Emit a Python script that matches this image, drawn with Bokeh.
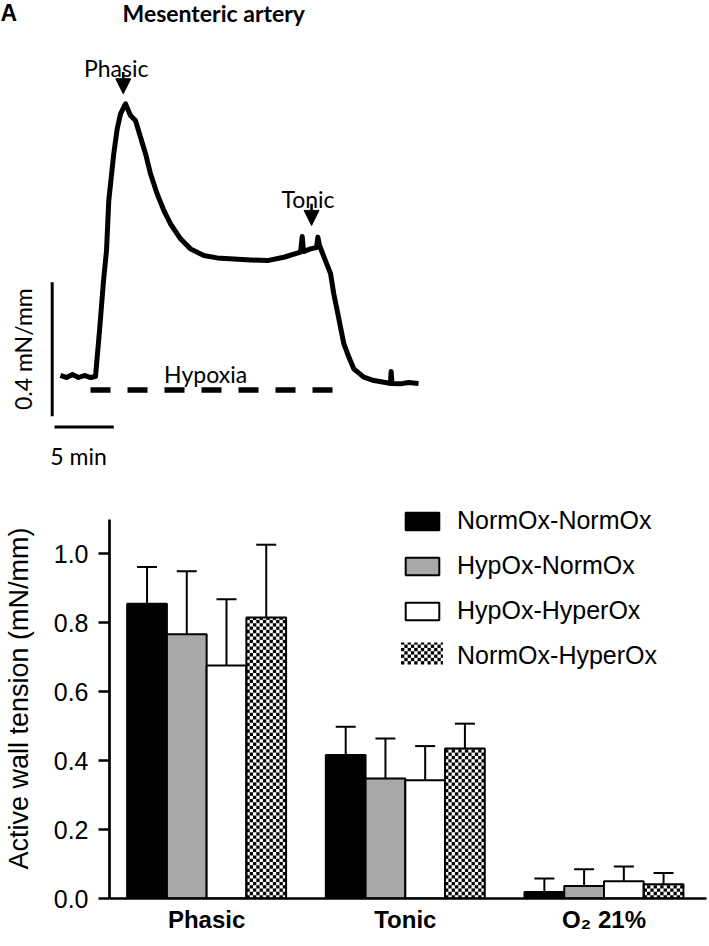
import math
from bokeh.plotting import figure
from bokeh.models import (ColumnDataSource, Whisker, TeeHead, Legend, LegendItem,
                          Label, Arrow, NormalHead, PrintfTickFormatter,
                          FixedTicker, Range1d)
from bokeh.transform import dodge
from bokeh.layouts import column
from bokeh.core.properties import value
from bokeh.embed import file_html
from bokeh.resources import INLINE

# ---------------- Panel A data (time in min, tension in mN/mm) ----------------
trace_time = [0.00, 0.51, 1.01, 1.52, 2.02, 2.53, 2.95, 3.29, 3.63, 3.88, 4.07, 4.49, 4.78,
              5.06, 5.48, 5.90, 6.32, 6.75, 7.17, 7.59, 8.15, 8.71, 9.27, 10.12, 10.96,
              12.08, 13.21, 14.61, 16.02, 17.43, 18.83, 20.24, 20.38, 20.49, 21.08, 21.59,
              21.70, 21.84, 22.34, 22.77, 23.04, 23.33, 23.61, 23.89, 24.31, 24.73, 25.57,
              26.42, 27.40, 27.82, 27.88, 27.95, 28.67, 29.34, 30.19]
trace_tension = [0.003, -0.003, 0.006, -0.003, 0.003, -0.003, 0.000, 0.137, 0.287, 0.376,
                 0.525, 0.665, 0.739, 0.784, 0.814, 0.779, 0.764, 0.714, 0.665, 0.605, 0.545,
                 0.496, 0.456, 0.411, 0.381, 0.361, 0.354, 0.351, 0.348, 0.346, 0.356, 0.371,
                 0.418, 0.373, 0.381, 0.385, 0.416, 0.391, 0.346, 0.307, 0.247, 0.197, 0.147,
                 0.098, 0.058, 0.023, -0.002, -0.012, -0.018, -0.021, 0.015, -0.021, -0.022,
                 -0.018, -0.021]
hypoxia_start = 2.53
hypoxia_end = 23.04
phasic_time = 5.29
tonic_time = 21.17
scale_time = 5.0       # min
scale_tension = 0.4    # mN/mm

# ---------------- Panel B data ----------------
categories = ["Phasic", "Tonic", "O\u2082 21%"]
series_names = ["NormOx-NormOx", "HypOx-NormOx", "HypOx-HyperOx", "NormOx-HyperOx"]
normox_normox = [0.855, 0.416, 0.019]
hypox_normox = [0.766, 0.348, 0.036]
hypox_hyperox = [0.676, 0.343, 0.050]
normox_hyperox = [0.815, 0.435, 0.041]
normox_normox_err = [0.106, 0.082, 0.039]
hypox_normox_err = [0.183, 0.116, 0.049]
hypox_hyperox_err = [0.192, 0.099, 0.043]
normox_hyperox_err = [0.211, 0.072, 0.033]
y_ticks = [0.0, 0.2, 0.4, 0.6, 0.8, 1.0]

# ---------------- Panel A ----------------
W = 709
H1 = 482
PX_PER_MIN = 11.86
PX_PER_UNIT = 335.0
t0 = -60 / PX_PER_MIN
t1 = t0 + W / PX_PER_MIN
f1 = 376 / PX_PER_UNIT
f0 = f1 - H1 / PX_PER_UNIT

pa = figure(width=W, height=H1, x_range=Range1d(t0, t1), y_range=Range1d(f0, f1),
            x_axis_location=None, y_axis_location=None, toolbar_location=None,
            output_backend="svg", min_border=0, outline_line_color=None,
            frame_align=False)
pa.xgrid.visible = False
pa.ygrid.visible = False

pa.line(trace_time, trace_tension, line_color="black", line_width=5, line_join="round")

# hypoxia bar
dash_level = -0.040
pa.line([hypoxia_start, hypoxia_end], [dash_level, dash_level], line_color="black",
        line_width=5.5, line_dash="20 17", line_cap="butt")

LATO = value("Lato")
pa.text(x=[(hypoxia_start + hypoxia_end) / 2 - 0.55], y=[0.0075], text=["Hypoxia"],
        text_font=LATO, text_font_size="23px", text_align="center",
        text_baseline="alphabetic", text_color="black")
pa.text(x=[phasic_time - 0.59, tonic_time - 0.30], y=[0.921, 0.531], text=["Phasic", "Tonic"],
        text_font=LATO, text_font_size="23px", text_align="center",
        text_baseline="alphabetic", text_color="black")

for tt, ys, ye in [(phasic_time, 0.909, 0.844), (tonic_time, 0.516, 0.451)]:
    pa.add_layout(Arrow(end=NormalHead(size=15, fill_color="black", line_color="black"),
                        x_start=tt, y_start=ys, x_end=tt, y_end=ye,
                        line_width=2.5, line_color="black"))

# scale bars
sb_t = -0.70
sb_f = -0.1185
hb_t = -0.506
hb_f = -0.151
pa.line([sb_t, sb_t], [sb_f, sb_f + scale_tension], line_color="black", line_width=3)
pa.line([hb_t, hb_t + scale_time], [hb_f, hb_f], line_color="black", line_width=3)
pa.text(x=[-3.16], y=[sb_f + scale_tension / 2], text=["0.4 mN/mm"], angle=math.pi / 2,
        text_font=LATO, text_font_size="23px", text_align="center",
        text_baseline="middle", text_color="black")
pa.text(x=[1.52], y=[-0.236], text=["5 min"], text_font=LATO, text_font_size="23px",
        text_align="center", text_baseline="alphabetic", text_color="black")

pa.add_layout(Label(x=0, y=H1 - 25, x_units="screen", y_units="screen", text="A",
                    text_font="Liberation Sans", text_font_style="bold",
                    text_font_size="23px", text_color="black"))
pa.add_layout(Label(x=122, y=H1 - 26, x_units="screen", y_units="screen",
                    text="Mesenteric artery", text_font="Lato", text_font_style="bold",
                    text_font_size="23px", text_color="black"))

# ---------------- Panel B ----------------
H2 = 946 - H1
cat_pos = list(range(1, len(categories) + 1))
PX_PER_CAT = 199.0
FRAME_LEFT = 108
x_start = 1 - (205.3 - FRAME_LEFT) / PX_PER_CAT
x_end = x_start + (706 - FRAME_LEFT) / PX_PER_CAT
Y_TOP = 1.16
FRAME_H = 400
PX_PER_Y = FRAME_H / Y_TOP

pb = figure(width=W, height=H2, x_range=Range1d(x_start, x_end),
            y_range=Range1d(0, Y_TOP), toolbar_location=None, output_backend="svg",
            min_border_left=FRAME_LEFT, min_border_right=W - 706,
            min_border_top=H2 - 48 - FRAME_H,
            min_border_bottom=48, outline_line_color=None, frame_align=False)
pb.xgrid.visible = False
pb.ygrid.visible = False

fills = ["black", "#a8a8a8", "white", "white"]
offsets = [-0.3, -0.1, 0.1, 0.3]
BAR_W = 0.2
means = [normox_normox, hypox_normox, hypox_hyperox, normox_hyperox]
errs = [normox_normox_err, hypox_normox_err, hypox_hyperox_err, normox_hyperox_err]

# checker texture: square cells of ~3.3 px
CELL_PX = BAR_W * PX_PER_CAT / 12
cell_w = CELL_PX / PX_PER_CAT
cell_h = CELL_PX / PX_PER_Y


def checker_cells(left, right, bottom, top, L, R, B, T):
    ncols = int(math.ceil((right - left) / cell_w - 1e-9))
    nrows = int(math.ceil((top - bottom) / cell_h - 1e-9))
    for rr in range(nrows):
        for cc in range(ncols):
            if (rr + cc) % 2 == 0:
                L.append(left + cc * cell_w)
                R.append(min(left + (cc + 1) * cell_w, right))
                B.append(bottom + rr * cell_h)
                T.append(min(bottom + (rr + 1) * cell_h, top))


# legend geometry (screen px)
LEG_X = 400
LEG_BOTTOM = 228
GLYPH_W, GLYPH_H = 42, 22
ROW_H, SPACING = 28, 16
LEG_H = 4 * ROW_H + 3 * SPACING

items = []
for i, (name, m, e, fc, off) in enumerate(zip(series_names, means, errs, fills, offsets)):
    src = ColumnDataSource(dict(pos=cat_pos, val=m, upper=[a + b for a, b in zip(m, e)]))
    pos = dodge("pos", off)
    if name == "NormOx-HyperOx":
        L, R, B, T = [], [], [], []
        for p_, v in zip(cat_pos, m):
            checker_cells(p_ + off - BAR_W / 2, p_ + off + BAR_W / 2, 0, v, L, R, B, T)
        # legend key texture
        gy_top = LEG_BOTTOM + LEG_H - i * (ROW_H + SPACING)
        gx0 = x_start + (LEG_X - FRAME_LEFT) / PX_PER_CAT
        checker_cells(gx0, gx0 + GLYPH_W / PX_PER_CAT, (gy_top - GLYPH_H) / PX_PER_Y,
                      gy_top / PX_PER_Y, L, R, B, T)
        pb.quad(left=L, right=R, bottom=B, top=T, fill_color="black", line_color=None)
        pb.vbar(x=pos, top="val", bottom=0, width=BAR_W, source=src, fill_color=None,
                line_color="black", line_width=2)
        # outline-only key for the legend (no data drawn)
        r = pb.vbar(x=[], top=[], bottom=0, width=BAR_W, fill_color=None,
                    line_color="black", line_width=2)
    else:
        r = pb.vbar(x=pos, top="val", bottom=0, width=BAR_W, source=src, fill_color=fc,
                    line_color="black", line_width=2)
    w = Whisker(base=pos, lower="val", upper="upper", source=src, dimension="height",
                line_color="black", line_width=2,
                upper_head=TeeHead(size=20, line_width=2, line_color="black"),
                lower_head=None)
    pb.add_layout(w)
    items.append(LegendItem(label=name, renderers=[r]))

legend = Legend(items=items, location=(LEG_X - FRAME_LEFT, LEG_BOTTOM), glyph_width=GLYPH_W,
                glyph_height=GLYPH_H, label_standoff=14, spacing=SPACING, padding=0,
                margin=0, label_height=GLYPH_H, border_line_color=None,
                background_fill_alpha=0, inactive_fill_alpha=0,
                label_text_font="Liberation Sans", label_text_font_size="25px",
                label_text_color="black")
pb.add_layout(legend)

yax = pb.yaxis[0]
yax.ticker = FixedTicker(ticks=y_ticks)
yax.formatter = PrintfTickFormatter(format="%.1f")
yax.bounds = (0, 1.1)
yax.axis_line_width = 2.7
yax.axis_line_color = "black"
yax.major_tick_line_width = 2.7
yax.major_tick_line_color = "black"
yax.major_tick_out = 11
yax.major_tick_in = 0
yax.minor_tick_line_color = None
yax.major_label_text_font = "Liberation Sans"
yax.major_label_text_font_size = "25px"
yax.major_label_text_color = "black"
yax.major_label_standoff = 10
yax.axis_label = "Active wall tension (mN/mm)"
yax.axis_label_text_font = "Liberation Sans"
yax.axis_label_text_font_size = "27px"
yax.axis_label_text_font_style = "normal"
yax.axis_label_text_color = "black"
yax.axis_label_standoff = 17

xax = pb.xaxis[0]
xax.ticker = FixedTicker(ticks=cat_pos)
xax.major_label_overrides = {p: c for p, c in zip(cat_pos, categories)}
xax.axis_line_width = 2.7
xax.axis_line_color = "black"
xax.major_tick_line_color = None
xax.major_tick_out = 0
xax.major_tick_in = 0
xax.minor_tick_line_color = None
xax.minor_tick_out = 0
xax.major_label_text_font = "Liberation Sans"
xax.major_label_text_font_style = "bold"
xax.major_label_text_font_size = "24px"
xax.major_label_text_color = "black"
xax.major_label_standoff = 7

pb.add_layout(Label(x=3 - FRAME_LEFT, y=386, x_units="screen", y_units="screen", text="B",
                    text_font="Liberation Sans", text_font_style="bold",
                    text_font_size="20px", text_color="black"))

layout = column(pa, pb)
open("out.html", "w").write(file_html(layout, INLINE))
